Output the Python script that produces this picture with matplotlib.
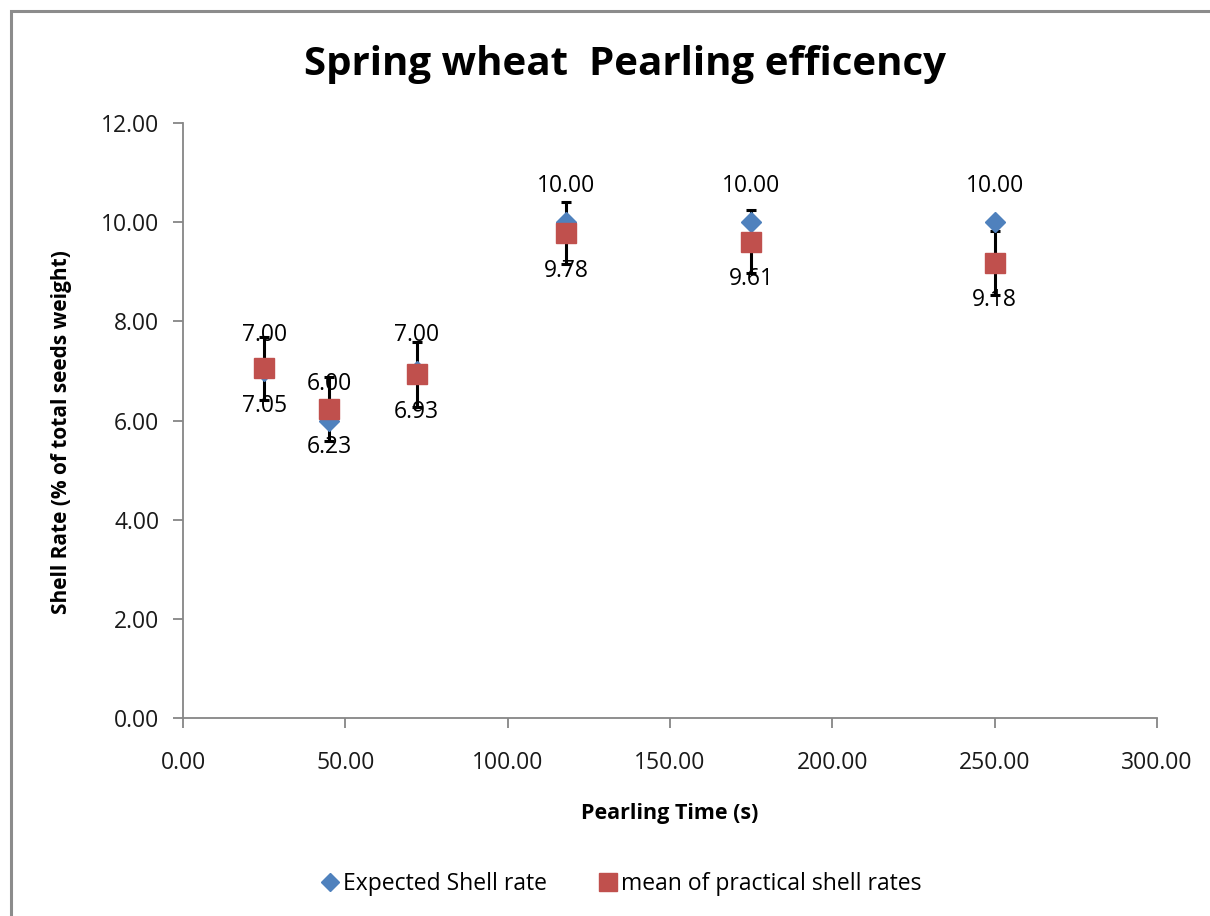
import numpy as np
import matplotlib
matplotlib.use("Agg")
import matplotlib.pyplot as plt
from matplotlib.patches import Rectangle
from matplotlib.lines import Line2D

plt.rcParams['font.family'] = ['Open Sans', 'DejaVu Sans']

# pearling time (s)
times = [25, 45, 72, 118, 175, 250]
expected = [7.00, 6.00, 7.00, 10.00, 10.00, 10.00]
practical = [7.05, 6.23, 6.93, 9.78, 9.61, 9.18]
practical_err = [0.63, 0.64, 0.65, 0.62, 0.64, 0.64]

blue = '#4F81BD'
red = '#C0504D'
axis_grey = '#868686'

fig = plt.figure(figsize=(12.10, 9.16), dpi=100)
ax = fig.add_axes([183 / 1210, 1 - 718 / 916, (1157 - 183) / 1210, (718 - 123) / 916])

# outer chart border
fig.patches.append(Rectangle((11 / 1210, -0.05), 1.2, 1 - 11 / 916 + 0.05,
                             transform=fig.transFigure, fill=False,
                             edgecolor='#8c8c8c', linewidth=2.2))

ax.errorbar(times, practical, yerr=practical_err, fmt='none', ecolor='black',
            elinewidth=2.2, capsize=3.8, capthick=2.2, zorder=2)
ax.plot(times, expected, linestyle='none', marker='D', markersize=10,
        color=blue, markeredgecolor=blue, zorder=3)
ax.plot(times, practical, linestyle='none', marker='s', markersize=14.5,
        color=red, markeredgecolor=red, zorder=4)

for t, v in zip(times, expected):
    ax.annotate(f'{v:.2f}', (t, v), xytext=(0, 26), textcoords='offset points',
                ha='center', va='center', fontsize=16.5, color='black', zorder=5)
for t, v in zip(times, practical):
    ax.annotate(f'{v:.2f}', (t, v), xytext=(0, -27), textcoords='offset points',
                ha='center', va='center', fontsize=16.5, color='black', zorder=5)

ax.set_xlim(0, 300)
ax.set_ylim(0, 12)
ax.set_xticks(np.arange(0, 301, 50))
ax.set_yticks(np.arange(0, 12.1, 2))
ax.xaxis.set_major_formatter(matplotlib.ticker.FormatStrFormatter('%.2f'))
ax.yaxis.set_major_formatter(matplotlib.ticker.FormatStrFormatter('%.2f'))
ax.tick_params(axis='both', labelsize=16.5, color=axis_grey, width=1.3, length=7,
               direction='out', labelcolor='#1a1a1a')
ax.tick_params(axis='x', pad=17)
ax.tick_params(axis='y', pad=10)

for side in ['top', 'right']:
    ax.spines[side].set_visible(False)
for side in ['left', 'bottom']:
    ax.spines[side].set_color(axis_grey)
    ax.spines[side].set_linewidth(1.3)

fig.text(0.5165, 1 - 65 / 916, 'Spring wheat  Pearling efficency', ha='center',
         va='center', fontsize=29, fontweight='bold')
fig.text(62 / 1210, 1 - 432 / 916, 'Shell Rate (% of total seeds weight)',
         rotation=90, ha='center', va='center', fontsize=15, fontweight='bold')
fig.text(670 / 1210, 1 - 813 / 916, 'Pearling Time (s)', ha='center',
         va='center', fontsize=15.5, fontweight='bold')

handles = [Line2D([], [], linestyle='none', marker='D', markersize=9, color=blue),
           Line2D([], [], linestyle='none', marker='s', markersize=13, color=red)]
fig.legend(handles, ['Expected Shell rate', 'mean of practical shell rates'],
           loc='center', bbox_to_anchor=(620 / 1210, 1 - 884 / 916), ncol=2,
           frameon=False, fontsize=16.5, handletextpad=0.05, columnspacing=2.2,
           handlelength=1.0)

fig.savefig('out.png', dpi=100)
